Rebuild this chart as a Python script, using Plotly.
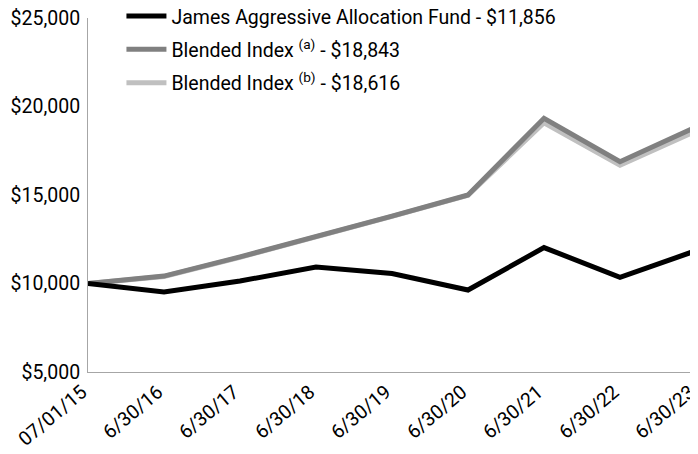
import plotly.graph_objects as go

dates = ["07/01/15", "6/30/16", "6/30/17", "6/30/18", "6/30/19", "6/30/20", "6/30/21", "6/30/22", "6/30/23"]
fund = [10000, 9520, 10140, 10930, 10560, 9630, 12030, 10350, 11856]
blend_a = [10000, 10420, 11500, 12630, 13810, 15000, 19330, 16880, 18843]
blend_b = [10000, 10400, 11480, 12610, 13790, 14980, 19080, 16680, 18616]

names = [
    "James Aggressive Allocation Fund - $11,856",
    "Blended Index <sup>(a)</sup> - $18,843",
    "Blended Index <sup>(b)</sup> - $18,616",
]
series = [fund, blend_a, blend_b]
colors = ["#000000", "#808080", "#c0c0c0"]

fig = go.Figure()
order = [2, 1, 0]
for i in order:
    fig.add_trace(go.Scatter(
        x=dates, y=series[i], mode="lines", name=names[i],
        line=dict(color=colors[i], width=5), legendrank=i + 1,
        legendgroup=str(i),
    ))

font = "Roboto, 'Liberation Sans', sans-serif"
fs = 19.5
fig.update_layout(
    width=690, height=446,
    margin=dict(l=80, r=2, t=10, b=82, autoexpand=False),
    paper_bgcolor="white", plot_bgcolor="white",
    font=dict(family=font, size=fs, color="#000000"),
    showlegend=True,
    legend=dict(x=0.055, y=1.06, xanchor="left", yanchor="top",
                bgcolor="rgba(0,0,0,0)", font=dict(size=fs),
                tracegroupgap=5, itemwidth=40),
    xaxis=dict(type="category", range=[0, 8], showgrid=False, tickangle=-40,
               showline=True, linecolor="#a6a6a6", linewidth=1, ticks="",
               automargin=False, tickfont=dict(size=fs), ticklabelshift=-6,
               ticklabeloverflow="allow"),
    yaxis=dict(range=[5000, 25000], dtick=5000, tickprefix="$", tickformat=",",
               showgrid=False, showline=True, linecolor="#a6a6a6", linewidth=1,
               ticks="", zeroline=False, automargin=False, tickfont=dict(size=fs),
               ticklabelstandoff=3, ticklabeloverflow="allow"),
)

fig.write_html("out.html")
